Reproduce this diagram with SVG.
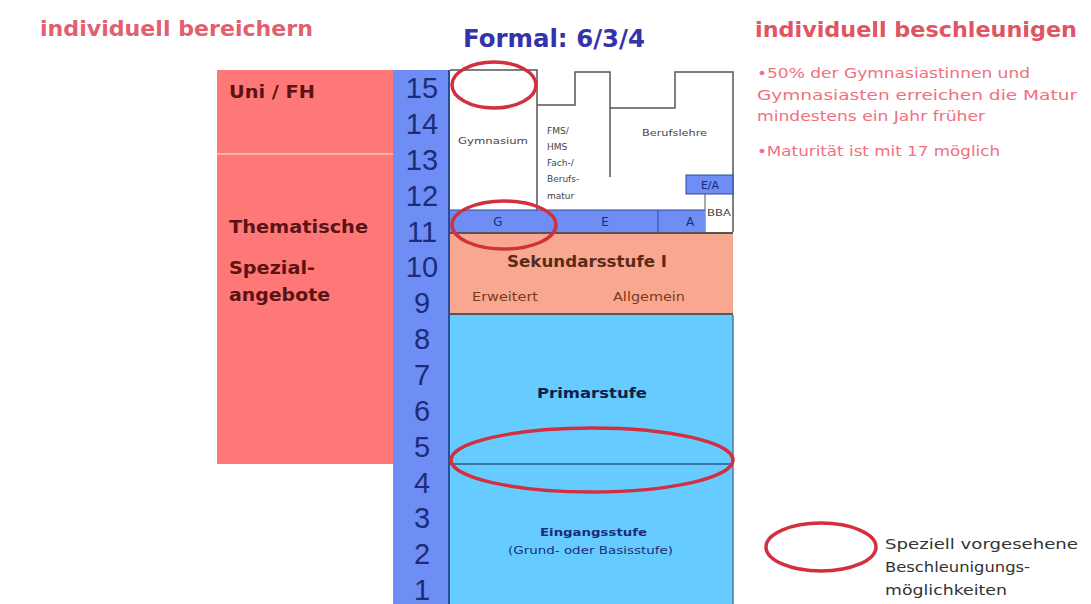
<svg xmlns="http://www.w3.org/2000/svg" width="1091" height="604" viewBox="0 0 1091 604">
<style>
.h{font-family:"DejaVu Sans",Verdana,sans-serif;font-weight:bold}
.t{font-family:"DejaVu Sans",Verdana,sans-serif}
.num{font-family:"Liberation Sans",Arial,sans-serif;font-size:29px;fill:#1c2c78;text-anchor:middle}
.oval{fill:none;stroke:#d2303e;stroke-width:3.5}
.ln{fill:none;stroke:#555;stroke-width:1.5}
.bull{font-family:"DejaVu Sans",Verdana,sans-serif;font-size:14.5px;fill:#f07080}
.pk{font-family:"DejaVu Sans",Verdana,sans-serif;font-weight:bold;font-size:17px;fill:#5a1414}
.sm{font-family:"DejaVu Sans",Verdana,sans-serif;font-size:9px;fill:#444}
</style>
<rect width="1091" height="604" fill="#ffffff"/>
<g id="titles">
<text class="h" x="40" y="36" font-size="22" fill="#e06070" textLength="273" lengthAdjust="spacingAndGlyphs">individuell bereichern</text>
<text class="h" x="463" y="47" font-size="25" fill="#3434a8" textLength="182" lengthAdjust="spacingAndGlyphs">Formal: 6/3/4</text>
<text class="h" x="755" y="37" font-size="22" fill="#e05464" textLength="322" lengthAdjust="spacingAndGlyphs">individuell beschleunigen</text>
<text class="bull" x="757" y="78" textLength="273" lengthAdjust="spacingAndGlyphs">•50% der Gymnasiastinnen und</text>
<text class="bull" x="757" y="100" textLength="320" lengthAdjust="spacingAndGlyphs">Gymnasiasten erreichen die Matur</text>
<text class="bull" x="757" y="121" textLength="228" lengthAdjust="spacingAndGlyphs">mindestens ein Jahr früher</text>
<text class="bull" x="757" y="156" textLength="243" lengthAdjust="spacingAndGlyphs">•Maturität ist mit 17 möglich</text>
</g>
<g id="pink">
<rect x="217" y="70" width="177" height="394" fill="#ff7878"/>
<line x1="217" y1="154" x2="394" y2="154" stroke="#ffb0b0" stroke-width="2"/>
<text class="pk" x="229" y="98" textLength="86" lengthAdjust="spacingAndGlyphs">Uni / FH</text>
<text class="pk" x="229" y="233" textLength="139" lengthAdjust="spacingAndGlyphs">Thematische</text>
<text class="pk" x="229" y="274" textLength="86" lengthAdjust="spacingAndGlyphs">Spezial-</text>
<text class="pk" x="229" y="301" textLength="101" lengthAdjust="spacingAndGlyphs">angebote</text>
</g>
<g id="years">
<rect x="393" y="70" width="57" height="534" fill="#6e8ef5"/>
<line x1="449" y1="70" x2="449" y2="604" stroke="#2a4a9a" stroke-width="2"/>
<text class="num" x="422" y="98">15</text>
<text class="num" x="422" y="134">14</text>
<text class="num" x="422" y="170">13</text>
<text class="num" x="422" y="206">12</text>
<text class="num" x="422" y="242">11</text>
<text class="num" x="422" y="277">10</text>
<text class="num" x="422" y="313">9</text>
<text class="num" x="422" y="349">8</text>
<text class="num" x="422" y="385">7</text>
<text class="num" x="422" y="421">6</text>
<text class="num" x="422" y="457">5</text>
<text class="num" x="422" y="493">4</text>
<text class="num" x="422" y="528">3</text>
<text class="num" x="422" y="564">2</text>
<text class="num" x="422" y="600">1</text>
</g>
<g id="upper">
<path class="ln" d="M450 70 H537 V210 M537 105 H575 V72 H610 V177 M610 108 H675 V72 H733 V232"/>
<text class="sm" x="458" y="144" textLength="70" lengthAdjust="spacingAndGlyphs">Gymnasium</text>
<text class="sm" x="547" y="134">FMS/</text>
<text class="sm" x="547" y="150">HMS</text>
<text class="sm" x="547" y="166">Fach-/</text>
<text class="sm" x="547" y="182">Berufs-</text>
<text class="sm" x="547" y="199">matur</text>
<text class="sm" x="642" y="136" textLength="65" lengthAdjust="spacingAndGlyphs">Berufslehre</text>
</g>
<g id="ea">
<rect x="686" y="175" width="47" height="19" fill="#6e8ef5" stroke="#2a4a9a" stroke-width="1"/>
<text class="t" x="710" y="189" font-size="11" fill="#1c2c78" text-anchor="middle">E/A</text>
<line x1="705" y1="194" x2="705" y2="232" stroke="#555" stroke-width="1"/>
<text class="t" x="707" y="216" font-size="8" fill="#444" textLength="24" lengthAdjust="spacingAndGlyphs">BBA</text>
</g>
<g id="gea">
<rect x="450" y="210" width="255" height="22" fill="#6e8ef5"/>
<line x1="450" y1="210" x2="705" y2="210" stroke="#2a4a9a" stroke-width="1"/>
<line x1="658" y1="210" x2="658" y2="232" stroke="#2a4a9a" stroke-width="1"/>
<text class="t" x="498" y="226" font-size="12" fill="#1c2c78" text-anchor="middle">G</text>
<text class="t" x="605" y="226" font-size="12" fill="#1c2c78" text-anchor="middle">E</text>
<text class="t" x="690" y="226" font-size="12" fill="#1c2c78" text-anchor="middle">A</text>
</g>
<g id="sek">
<rect x="450" y="233" width="283" height="81" fill="#f8a890"/>
<line x1="450" y1="233" x2="733" y2="233" stroke="#555" stroke-width="2"/>
<line x1="450" y1="314" x2="733" y2="314" stroke="#555" stroke-width="2"/>
<text class="h" x="507" y="267" font-size="15" fill="#5a2a1a" textLength="160" lengthAdjust="spacingAndGlyphs">Sekundarsstufe I</text>
<text class="t" x="472" y="301" font-size="12.5" fill="#7a3a20" textLength="66" lengthAdjust="spacingAndGlyphs">Erweitert</text>
<text class="t" x="613" y="301" font-size="12.5" fill="#7a3a20" textLength="72" lengthAdjust="spacingAndGlyphs">Allgemein</text>
</g>
<g id="prim">
<rect x="450" y="315" width="283" height="289" fill="#66ccff"/>
<line x1="733" y1="315" x2="733" y2="604" stroke="#4a7aa8" stroke-width="1.5"/>
<line x1="450" y1="464" x2="733" y2="464" stroke="#2a5a8a" stroke-width="1.5"/>
<text class="h" x="537" y="398" font-size="14.5" fill="#10204a" textLength="110" lengthAdjust="spacingAndGlyphs">Primarstufe</text>
<text class="h" x="540" y="536" font-size="10.5" fill="#1c2c78" textLength="107" lengthAdjust="spacingAndGlyphs">Eingangsstufe</text>
<text class="t" x="508" y="554" font-size="10.5" fill="#1c2c78" textLength="165" lengthAdjust="spacingAndGlyphs">(Grund- oder Basisstufe)</text>
</g>
<g id="ovals">
<ellipse class="oval" cx="494" cy="85" rx="42" ry="23"/>
<ellipse class="oval" cx="504" cy="225" rx="52" ry="24"/>
<ellipse class="oval" cx="592" cy="460" rx="141" ry="32"/>
</g>
<g id="legend">
<ellipse class="oval" cx="821" cy="547" rx="55" ry="24"/>
<text class="t" x="885" y="549" font-size="14.5" fill="#333" textLength="193" lengthAdjust="spacingAndGlyphs">Speziell vorgesehene</text>
<text class="t" x="885" y="572" font-size="14.5" fill="#333" textLength="145" lengthAdjust="spacingAndGlyphs">Beschleunigungs-</text>
<text class="t" x="885" y="595" font-size="14.5" fill="#333" textLength="122" lengthAdjust="spacingAndGlyphs">möglichkeiten</text>
</g>
</svg>
